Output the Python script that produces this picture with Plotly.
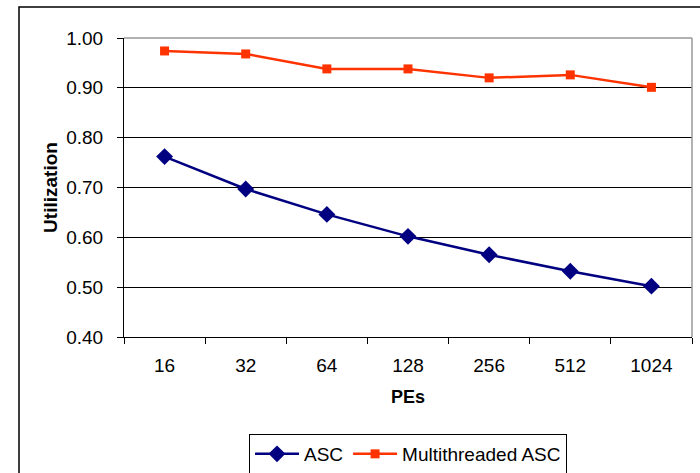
import plotly.graph_objects as go

pes = ["16", "32", "64", "128", "256", "512", "1024"]
asc = [0.762, 0.697, 0.646, 0.602, 0.565, 0.532, 0.502]
mt_asc = [0.974, 0.968, 0.938, 0.938, 0.920, 0.926, 0.901]
y_ticks = [0.4, 0.5, 0.6, 0.7, 0.8, 0.9, 1.0]

W, H = 700, 473
L, R, T, B = 124, 8, 38, 136
pw, ph = W - L - R, H - T - B

def px(x):
    return (x - L) / pw

def py(y):
    return (H - B - y) / ph

FONT = "Liberation Sans, Arial, sans-serif"

fig = go.Figure()
fig.add_trace(go.Scatter(
    x=pes, y=asc, name="ASC", mode="lines+markers",
    line=dict(color="#000080", width=2.5),
    marker=dict(symbol="diamond", size=13, color="#000080"),
))
fig.add_trace(go.Scatter(
    x=pes, y=mt_asc, name="Multithreaded ASC", mode="lines+markers",
    line=dict(color="#FF3300", width=2.5),
    marker=dict(symbol="square", size=9, color="#FF3300"),
))

fig.update_layout(
    width=W, height=H,
    margin=dict(l=L, r=R, t=T, b=B, autoexpand=False),
    paper_bgcolor="white", plot_bgcolor="white",
    font=dict(family=FONT, size=19, color="black"),
    showlegend=True,
    legend=dict(
        orientation="h", x=0.5, xanchor="center", y=py(434), yanchor="top",
        bordercolor="black", borderwidth=1, bgcolor="white",
        font=dict(family=FONT, size=19, color="black"),
        itemwidth=44, tracegroupgap=0,
    ),
    xaxis=dict(
        type="category", showgrid=False, showline=True, linecolor="black", linewidth=1,
        ticks="outside", tickson="boundaries", ticklen=6, tickcolor="black",
        ticklabelstandoff=11,
        title=dict(text="<b>PEs</b>", font=dict(family=FONT, size=18), standoff=15),
        range=[-0.5, 6.5],
    ),
    yaxis=dict(
        range=[0.4, 1.0], tickvals=y_ticks, tickformat=".2f",
        showgrid=True, gridcolor="black", gridwidth=1,
        showline=True, linecolor="black", linewidth=1,
        ticks="outside", ticklen=6, tickcolor="black",
        ticklabelstandoff=10, zeroline=False,
        title=dict(text="<b>Utilization</b>", font=dict(family=FONT, size=19), standoff=3),
    ),
    shapes=[
        dict(type="line", xref="paper", yref="paper", x0=0, x1=1, y0=1, y1=1,
             line=dict(color="#999999", width=1.5), layer="above"),
        dict(type="line", xref="paper", yref="paper", x0=1, x1=1, y0=0, y1=1,
             line=dict(color="#999999", width=1.5), layer="above"),
        dict(type="rect", xref="paper", yref="paper",
             x0=px(19), x1=px(710), y0=py(490), y1=py(7),
             line=dict(color="black", width=1.5), layer="below"),
    ],
)

fig.write_html("out.html")
